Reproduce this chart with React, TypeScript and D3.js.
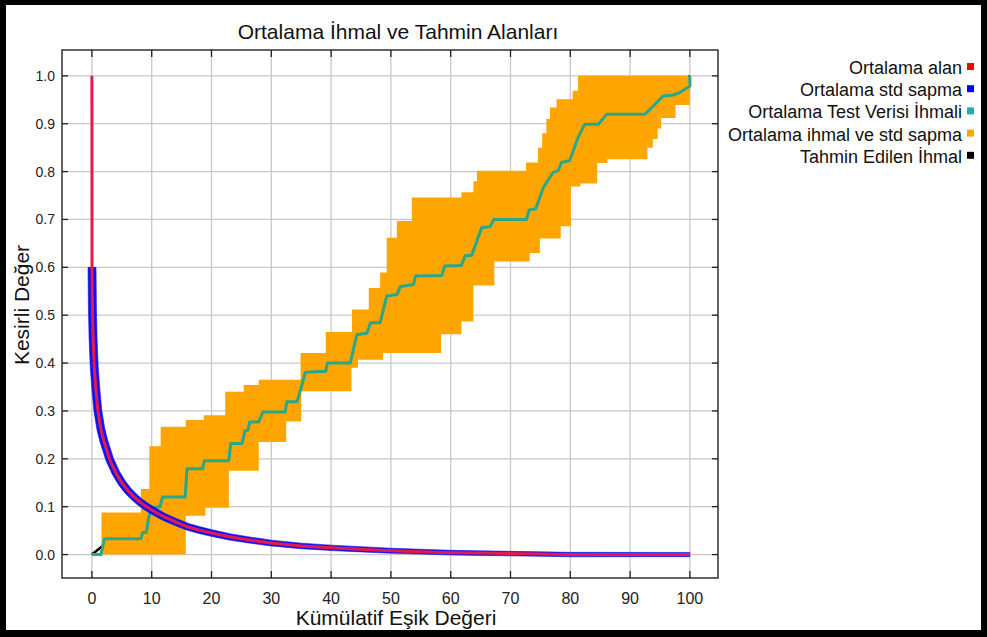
import React from 'react';
import * as d3 from 'd3';

// ---------- data ----------
const xTicks = [0, 10, 20, 30, 40, 50, 60, 70, 80, 90, 100];
const yTicks = [0, 0.1, 0.2, 0.3, 0.4, 0.5, 0.6, 0.7, 0.8, 0.9, 1.0];

// Ortalama alan (mean area curve)
const meanX = [0, 0.02, 0.08, 0.2, 0.4, 0.7, 1.0, 1.5, 2, 3, 4, 5, 6, 7, 8, 9, 10, 12, 14, 16, 18, 20, 23, 26, 30, 35, 40, 45, 50, 55, 60, 65, 70, 75, 80, 100];
const meanY = [1.0, 0.6, 0.52, 0.45, 0.39, 0.34, 0.3, 0.262, 0.237, 0.198, 0.171, 0.15, 0.134, 0.121, 0.11, 0.101, 0.093, 0.079, 0.068, 0.058, 0.051, 0.045, 0.037, 0.031, 0.024, 0.018, 0.014, 0.011, 0.008, 0.006, 0.004, 0.003, 0.002, 0.001, 0, 0];

// Ortalama Test Verisi İhmali (mean test omission)
const testX = [0, 1.5, 2.1, 8.2, 8.5, 9.1, 9.5, 10.0, 11.4, 11.8, 15.6, 15.9, 18.5, 18.8, 22.9, 23.2, 25.1, 25.6, 26.1, 26.4, 27.9, 28.3, 28.6, 32.3, 32.6, 34.3, 34.9, 35.7, 39.1, 39.4, 43.2, 44.3, 46.0, 46.6, 48.2, 49.3, 51.0, 51.6, 53.8, 54.1, 58.5, 59.0, 61.8, 62.4, 63.5, 65.2, 66.6, 67.2, 72.7, 73.1, 74.2, 75.5, 77.1, 78.0, 78.5, 79.9, 81.3, 82.4, 84.7, 86.1, 92.5, 93.9, 95.5, 97.2, 98.3, 100, 100];
const testY = [0, 0, 0.033, 0.033, 0.046, 0.046, 0.077, 0.098, 0.1, 0.12, 0.12, 0.179, 0.179, 0.196, 0.196, 0.232, 0.232, 0.258, 0.26, 0.277, 0.277, 0.289, 0.298, 0.298, 0.319, 0.319, 0.344, 0.381, 0.383, 0.4, 0.4, 0.459, 0.463, 0.484, 0.484, 0.54, 0.543, 0.56, 0.564, 0.582, 0.583, 0.603, 0.604, 0.624, 0.625, 0.683, 0.685, 0.7, 0.7, 0.72, 0.722, 0.767, 0.798, 0.802, 0.819, 0.823, 0.871, 0.899, 0.899, 0.92, 0.92, 0.937, 0.958, 0.96, 0.965, 0.979, 1.0];

// Ortalama ihmal ve std sapma (band: step starts)
const bandHighX = [1.6, 8.2, 9.6, 11.5, 15.7, 18.7, 22.3, 25.4, 27.9, 34.9, 39.1, 43.5, 46.3, 48.2, 49.3, 51.0, 53.5, 61.8, 63.8, 64.4, 72.6, 74.6, 75.3, 76.0, 76.6, 77.7, 80.4, 81.3];
const bandHighY = [0.088, 0.137, 0.226, 0.267, 0.281, 0.291, 0.34, 0.354, 0.365, 0.421, 0.465, 0.512, 0.557, 0.589, 0.662, 0.697, 0.746, 0.757, 0.78, 0.802, 0.819, 0.85, 0.88, 0.91, 0.934, 0.951, 0.969, 1.0];
const bandLowX = [1.6, 15.7, 19.0, 22.9, 27.9, 32.5, 35.0, 43.4, 44.5, 48.7, 58.4, 61.8, 63.8, 67.3, 73.2, 74.9, 78.4, 80.1, 81.7, 84.5, 86.2, 92.9, 93.8, 94.6, 95.2, 97.6];
const bandLowY = [0, 0.081, 0.098, 0.175, 0.235, 0.278, 0.341, 0.39, 0.407, 0.421, 0.46, 0.487, 0.562, 0.612, 0.63, 0.66, 0.686, 0.769, 0.775, 0.818, 0.826, 0.85, 0.868, 0.89, 0.912, 0.939];
const bandEndX = 100;

// Tahmin Edilen İhmal (predicted omission)
const predX = [0, 100];
const predY = [0, 1];

const legendLabels = ['Ortalama alan', 'Ortalama std sapma', 'Ortalama Test Verisi İhmali', 'Ortalama ihmal ve std sapma', 'Tahmin Edilen İhmal'];
const legendColors = ['#ff0000', '#0000ff', '#1fb0a8', '#ffa500', '#000000'];

// ---------- layout / style ----------
const W = 987, H = 637;
const box = { left: 62, right: 718, top: 50, bottom: 578 };
const FONT = '"Liberation Sans", Arial, Helvetica, sans-serif';
// half-width (px) of the blue std band along x
const blueHalfStops = [0, 10, 30, 60, 100];
const blueHalfPx = [4, 3.7, 2.9, 2.3, 2.1];

function stepPoints(xs: number[], ys: number[], xEnd: number): [number, number][] {
  const pts: [number, number][] = [];
  xs.forEach((x, i) => {
    const nx = i < xs.length - 1 ? xs[i + 1] : xEnd;
    pts.push([x, ys[i]]);
    pts.push([nx, ys[i]]);
  });
  return pts;
}

export default function App() {
  const x = d3.scaleLinear().domain([-5, 104.7]).range([box.left, box.right]);
  const y = d3.scaleLinear().domain([-0.049, 1.054]).range([box.bottom, box.top]);
  const line = d3.line<[number, number]>().x(d => x(d[0])).y(d => y(d[1]));
  const pxLine = d3.line<[number, number]>();
  const halfW = d3.scaleLinear().domain(blueHalfStops).range(blueHalfPx).clamp(true);

  const meanPts: [number, number][] = meanX.map((v, i) => [v, meanY[i]]);
  const bluePts = meanPts.filter(p => p[1] <= 0.6);
  const bp: [number, number][] = bluePts.map(p => [x(p[0]), y(p[1])]);
  const left: [number, number][] = [];
  const right: [number, number][] = [];
  bp.forEach((p, i) => {
    const a = bp[Math.max(0, i - 1)];
    const b = bp[Math.min(bp.length - 1, i + 1)];
    let tx = b[0] - a[0], ty = b[1] - a[1];
    const len = Math.hypot(tx, ty) || 1;
    tx /= len; ty /= len;
    const w = halfW(bluePts[i][0]);
    left.push([p[0] - ty * w, p[1] + tx * w]);
    right.push([p[0] + ty * w, p[1] - tx * w]);
  });
  const bluePath = pxLine([...left, ...right.reverse()]) + 'Z';

  const testPts: [number, number][] = testX.map((v, i) => [v, testY[i]]);
  const predPts: [number, number][] = predX.map((v, i) => [v, predY[i]]);
  const hi = stepPoints(bandHighX, bandHighY, bandEndX);
  const lo = stepPoints(bandLowX, bandLowY, bandEndX);
  const bandPath = line([...hi, ...lo.slice().reverse()]) + 'Z';

  return (
    <svg width={W} height={H} style={{ position: 'absolute', left: 0, top: 0, fontFamily: FONT }}>
      <rect x={0} y={0} width={W} height={H} fill="#000" />
      <rect x={6} y={5} width={975} height={625} fill="#fff" />
      <defs>
        <clipPath id="plotclip">
          <rect x={box.left} y={box.top} width={box.right - box.left} height={box.bottom - box.top} />
        </clipPath>
      </defs>
      {xTicks.map(t => (
        <line key={'gx' + t} x1={x(t)} x2={x(t)} y1={box.top} y2={box.bottom} stroke="#c8c8c8" strokeWidth={1.3} />
      ))}
      {yTicks.map(t => (
        <line key={'gy' + t} x1={box.left} x2={box.right} y1={y(t)} y2={y(t)} stroke="#c8c8c8" strokeWidth={1.3} />
      ))}
      <g clipPath="url(#plotclip)">
        <path d={line(predPts) || ''} fill="none" stroke="#000" strokeWidth={2.5} />
        <path d={bandPath} fill="#ffa500" stroke="none" />
        <path d={line(testPts) || ''} fill="none" stroke="#27a88c" strokeWidth={3} strokeLinejoin="round" />
        <path d={bluePath} fill="#1212f0" stroke="#1212f0" strokeWidth={0.6} strokeLinejoin="round" />
        <path d={line(meanPts) || ''} fill="none" stroke="#e5194b" strokeWidth={3} strokeLinejoin="round" />
      </g>
      <rect x={box.left} y={box.top} width={box.right - box.left} height={box.bottom - box.top} fill="none" stroke="#222" strokeWidth={1.4} />
      {xTicks.map(t => (
        <g key={'tx' + t}>
          <line x1={x(t)} x2={x(t)} y1={box.bottom} y2={box.bottom - 7} stroke="#222" strokeWidth={1.3} />
          <line x1={x(t)} x2={x(t)} y1={box.top} y2={box.top + 7} stroke="#222" strokeWidth={1.3} />
          <text x={x(t)} y={604} textAnchor="middle" fontSize={16} fill="#222">{t}</text>
        </g>
      ))}
      {yTicks.map(t => (
        <g key={'ty' + t}>
          <line x1={box.left} x2={box.left + 6} y1={y(t)} y2={y(t)} stroke="#222" strokeWidth={1.3} />
          <line x1={box.right} x2={box.right - 6} y1={y(t)} y2={y(t)} stroke="#222" strokeWidth={1.3} />
          <text x={55} y={y(t) + 5} textAnchor="end" fontSize={14} fill="#222">{t.toFixed(1)}</text>
        </g>
      ))}
      <text x={398} y={39} textAnchor="middle" fontSize={21} fill="#111">Ortalama İhmal ve Tahmin Alanları</text>
      <text x={396} y={625} textAnchor="middle" fontSize={21} fill="#111">Kümülatif Eşik Değeri</text>
      <text transform={`translate(29,305) rotate(-90)`} textAnchor="middle" fontSize={21} fill="#111">Kesirli Değer</text>
      {legendLabels.map((l, i) => (
        <g key={l}>
          <text x={962} y={74 + i * 22.2} textAnchor="end" fontSize={18} fill="#111">{l}</text>
          <rect x={967} y={63 + i * 22.2} width={7} height={7} fill={legendColors[i]} />
        </g>
      ))}
    </svg>
  );
}
